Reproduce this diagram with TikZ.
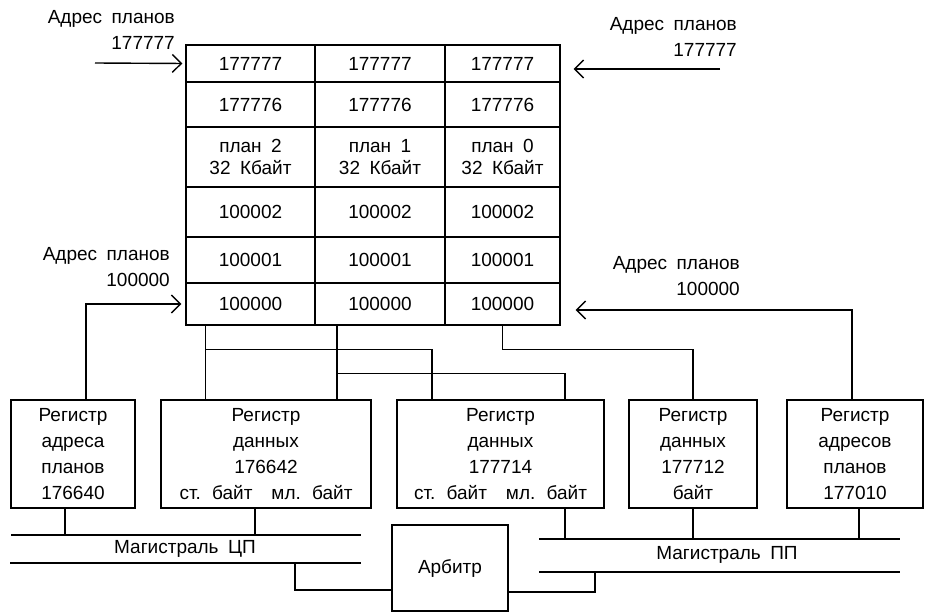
\documentclass[tikz,border=0pt]{standalone}
\usepackage{fontspec}
\setmainfont{Liberation Sans}
\usepackage{tikz}
\usetikzlibrary{arrows.meta,positioning}
\newcommand{\regfont}{\fontsize{19}{26}\selectfont\spaceskip=0.5em\relax}
\newcommand{\cellfont}{\fontsize{19}{22}\selectfont\spaceskip=0.5em\relax}

\begin{document}
\begin{tikzpicture}[
  x=1pt, y=-1pt,
  every node/.style={font=\regfont},
  cell/.style={
    rectangle,
    draw,
    line width=1.4pt,
    inner sep=0pt,
    align=center,
    font=\cellfont
  },
  reg/.style={
    rectangle,
    draw,
    line width=1.4pt,
    minimum height=108pt,
    inner sep=0pt,
    align=center
  },
  lbl/.style={align=right, anchor=east, inner sep=0pt},
  wire/.style={line width=1.4pt},
  arr/.style={line width=1.4pt, -{Straight Barb[length=9pt,width=18pt]}}
]
\useasboundingbox (0,0) rectangle (929,613);

% --- memory planes ---
\foreach \x/\w/\i/\p in {250.5/129/1/2, 380/130/2/1, 502.5/115/3/0} {
  \foreach \y/\h/\j/\val in {63.5/37/1/177777, 104.5/45/2/177776, 157/60/3/{план \p\\32 Кбайт},
                              212/50/4/100002, 260/46/5/100001, 304/42/6/100000} {
    \node[cell, minimum width=\w pt, minimum height=\h pt] (m\i\j) at (\x,\y) {\val};
  }
}

% --- address labels ---
\node[lbl] (adrTL) at (175,30)  {Адрес планов\\177777};
\node[lbl] (adrTR) at (737,37)  {Адрес планов\\177777};
\node[lbl] (adrBL) at (170,267) {Адрес планов\\100000};
\node[lbl] (adrBR) at (740,276) {Адрес планов\\100000};

% --- registers ---
\node[reg, minimum width=124pt] (regA)  at (73,454)    {Регистр\\адреса\\планов\\176640};
\node[reg, minimum width=210pt] (regD1) at (266,454)   {Регистр\\данных\\176642\\ст. байт\quad мл. байт};
\node[reg, minimum width=207pt] (regD2) at (500.5,454) {Регистр\\данных\\177714\\ст. байт\quad мл. байт};
\node[reg, minimum width=128pt] (regD3) at (693,454)   {Регистр\\данных\\177712\\байт};
\node[reg, minimum width=136pt] (regB)  at (855,454)   {Регистр\\адресов\\планов\\177010};
\node[reg, minimum width=116pt, minimum height=86pt] (arb) at (450,568) {Арбитр};

% --- address arrows ---
\coordinate (inTL) at (95,63);
\coordinate (inTR) at (720,69);
\draw[arr, shorten >=3pt] (inTL) -- (m11.west);
\draw[arr, shorten >=13pt] (inTR) -- (inTR -| m31.east);
\draw[arr, shorten >=4pt] ([xshift=13pt]regA.north) |- (m16.west);
\draw[arr, shorten >=15pt] ([xshift=-3pt]regB.north) |- ([yshift=-6pt]m36.east);

% --- planes to data registers ---
\coordinate (b1) at ([xshift=20pt]m16.south west);
\coordinate (b2) at ([xshift=-43pt]m26.south);
\draw[wire] (b1) -- (b1 |- regD1.north);
\draw[wire] (b1) ++(0,24) -| ([xshift=-68.5pt]regD2.north);
\draw[wire] (b2) -- (b2 |- regD1.north);
\draw[wire] (b2) ++(0,48) -| ([xshift=64.5pt]regD2.north);
\draw[wire] (m36.south) -- ++(0,24) -| (regD3.north);

% --- buses ---
\coordinate (cpuTL) at (11,535);
\coordinate (cpuTR) at (361,535);
\coordinate (cpuBL) at (10,563);
\coordinate (cpuBR) at (361,563);
\coordinate (ppTL) at (539,539);
\coordinate (ppTR) at (900,539);
\coordinate (ppBL) at (539,572);
\coordinate (ppBR) at (900,572);
\draw[wire] (cpuTL) -- (cpuTR);
\draw[wire] (cpuBL) -- (cpuBR);
\draw[wire] (ppTL) -- (ppTR);
\draw[wire] (ppBL) -- (ppBR);
\node (cpu) at (185,549) {Магистраль ЦП};
\node (pp)  at (727,555) {Магистраль ПП};

\foreach \r/\dx/\bus in {regA/-8/cpuTL, regD1/-11/cpuTL, regD2/64.5/ppTL, regD3/0/ppTL, regB/4/ppTL} {
  \coordinate (s) at ([xshift=\dx pt]\r.south);
  \draw[wire] (s) -- (s |- \bus);
}

% --- arbiter ---
\coordinate (arbL) at (295,563);
\coordinate (arbR) at (595,572);
\draw[wire] (arbL) |- ([yshift=-22pt]arb.west);
\draw[wire] ([yshift=-24pt]arb.east) -| (arbR);

\end{tikzpicture}
\end{document}
